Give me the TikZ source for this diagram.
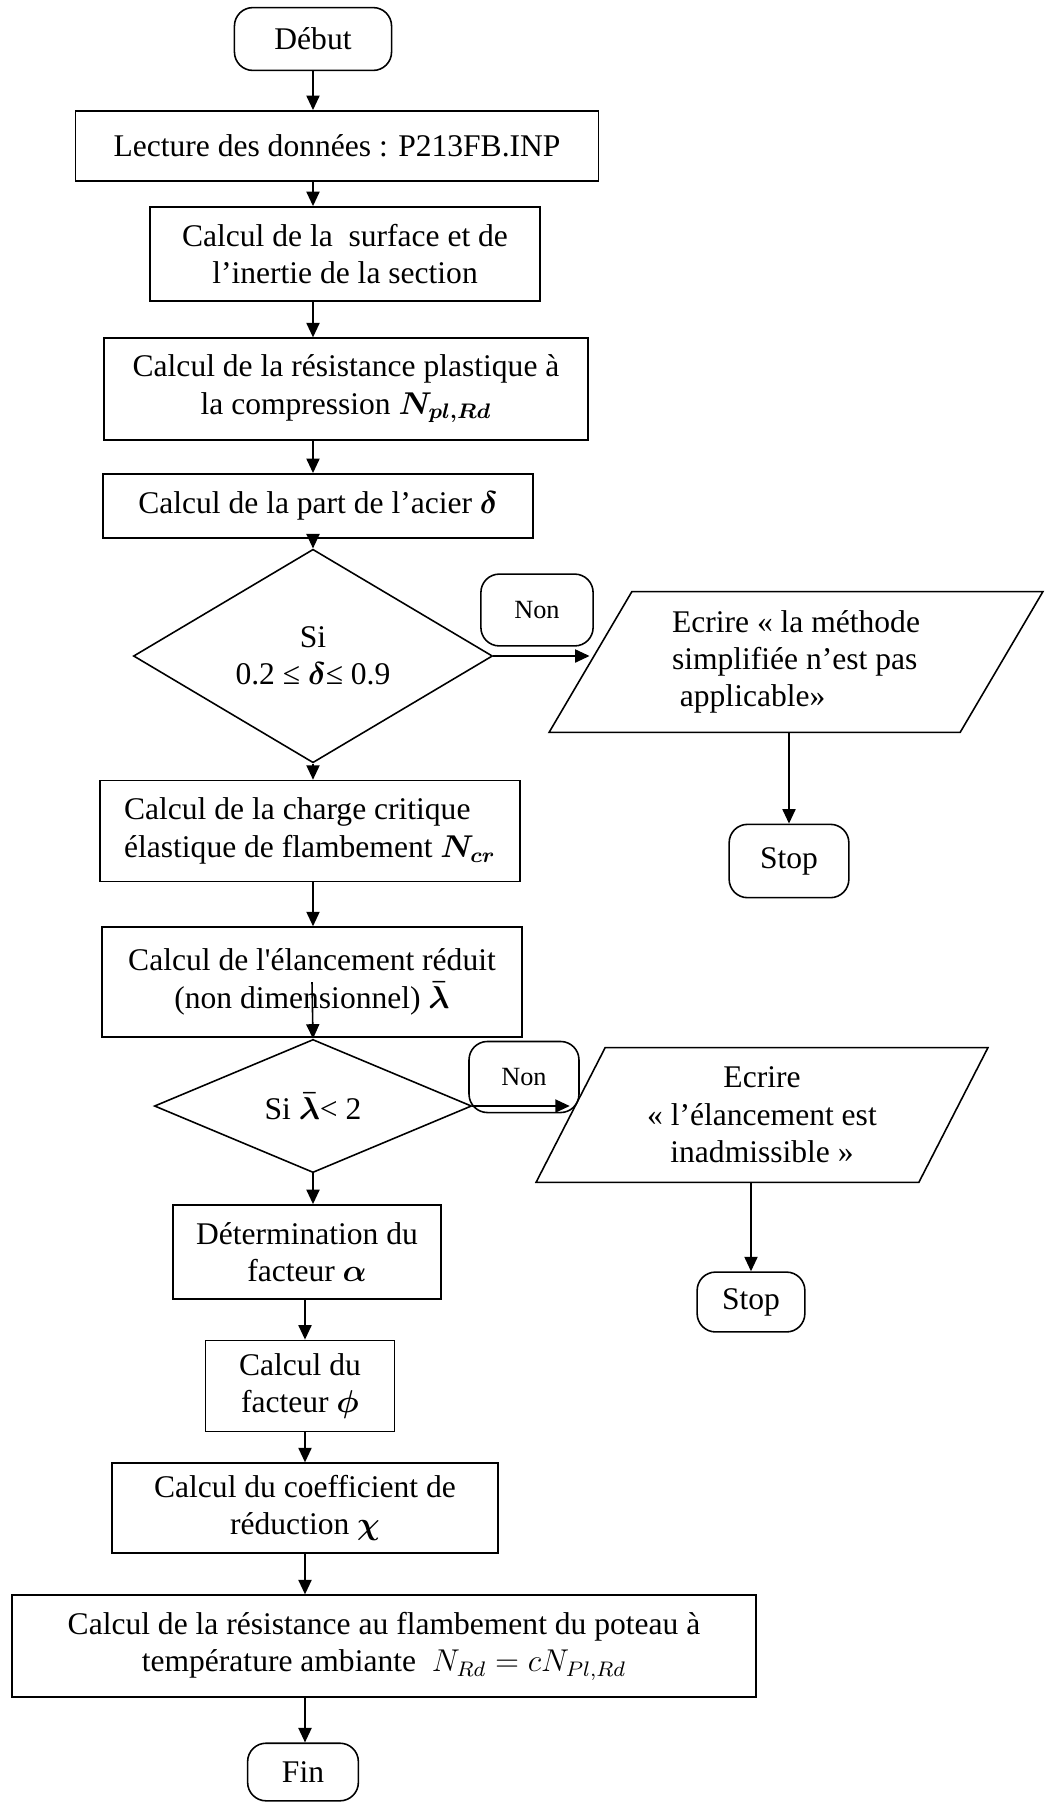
\documentclass[tikz,border=0pt]{standalone}
\usepackage{fontspec}
\setmainfont{Liberation Serif}
\usepackage{amsmath}
\usepackage{tikz}
\usetikzlibrary{shapes.geometric, arrows.meta}

\begin{document}
\begin{tikzpicture}[x=0.01336cm, y=-0.01336cm,
          box/.style={rectangle, draw, line width=0.6pt, align=center,
                      font=\fontsize{12}{14.2}\selectfont, inner sep=2pt},
          term/.style={box, rounded corners=7pt},
          non/.style={term, font=\fontsize{10}{12}\selectfont},
          test/.style={diamond, draw, line width=0.6pt, align=center,
                       font=\fontsize{12}{14.2}\selectfont, inner sep=0pt},
          io/.style={trapezium, trapezium stretches body, draw, line width=0.6pt,
                     font=\fontsize{12}{14.2}\selectfont, inner sep=2pt},
          arr/.style={-{Triangle[length=5.5pt, width=5pt]}, line width=0.6pt}
        ]
        \useasboundingbox (0,0) rectangle (1045,1802);

        % main column
        \node[term, minimum width=2.10cm, minimum height=0.84cm] (deb) at (313, 39) {Début};
        \node[box, minimum width=6.99cm, minimum height=0.94cm] (lec) at (337, 146) {Lecture des données : P213FB.INP};
        \node[box, minimum width=5.22cm, minimum height=1.26cm] (surf) at (345, 254)
              {Calcul de la \ surface et de\\l’inertie de la section};
        \node[box, minimum width=6.47cm, minimum height=1.36cm] (res) at (346, 389)
              {Calcul de la résistance plastique à\\la compression $\boldsymbol{N_{pl,Rd}}$};
        \node[box, minimum width=5.74cm, minimum height=0.86cm] (part) at (318, 506)
              {Calcul de la part de l’acier $\boldsymbol{\delta}$};
        \node[test, minimum width=4.80cm, minimum height=2.18cm] (si1) at (313, 656)
              {Si\\0.2 ≤ $\boldsymbol{\delta}$≤ 0.9};
        \node[box, align=left, minimum width=5.62cm, minimum height=1.35cm] (cha) at (310, 831)
              {Calcul de la charge critique\\élastique de flambement $\boldsymbol{N_{cr}}$};
        \node[box, minimum width=5.61cm, minimum height=1.47cm] (ela) at (312, 982)
              {Calcul de l\textquotesingle élancement réduit\\(non dimensionnel) $\boldsymbol{\bar{\lambda}}$};
        \node[test, minimum width=4.24cm, minimum height=1.78cm] (si2) at (313, 1106)
              {Si $\boldsymbol{\bar{\lambda}}$< 2};
        \node[box, minimum width=3.58cm, minimum height=1.26cm] (det) at (307, 1252)
              {Détermination du\\facteur $\boldsymbol{\alpha}$};
        \node[box, minimum width=2.53cm, minimum height=1.22cm] (fac) at (300, 1386)
              {Calcul du\\facteur $\boldsymbol{\phi}$};
        \node[box, minimum width=5.16cm, minimum height=1.20cm] (coef) at (305, 1508)
              {Calcul du coefficient de\\réduction $\boldsymbol{\chi}$};
        \node[box, minimum width=9.95cm, minimum height=1.36cm] (flamb) at (384, 1646)
              {Calcul de la résistance au flambement du poteau à\\température ambiante \ $N_{Rd} = cN_{Pl,Rd}$};
        \node[term, minimum width=1.48cm, minimum height=0.77cm] (fin) at (303, 1772) {Fin};

        % first test: no
        \node[non, minimum width=1.50cm, minimum height=0.96cm] (non1) at (537, 610) {Non};
        \node[io, align=left, trapezium left angle=54, trapezium right angle=126,
              minimum width=6.60cm, minimum height=1.88cm] (ec1) at (796, 662)
              {Ecrire « la méthode\\simplifiée n’est pas\\\hspace{0.25em}applicable»};
        \node[term, minimum width=1.60cm, minimum height=0.98cm] (stop1) at (789, 861) {Stop};

        % second test: no
        \node[non, minimum width=1.47cm, minimum height=0.95cm] (non2) at (524, 1077) {Non};
        \node[io, align=center, trapezium left angle=57, trapezium right angle=123,
              minimum width=6.04cm, minimum height=1.80cm] (ec2) at (762, 1115)
              {Ecrire\\« l’élancement est\\inadmissible »};
        \node[term, minimum width=1.44cm, minimum height=0.80cm] (stop2) at (751, 1302) {Stop};

        \foreach \a/\b in {deb/lec, lec/surf, surf/res, res/part, part/si1, si1/cha, cha/ela} {
          \draw[arr] (\a.south -| deb) -- (\b.north -| deb);
        }
        \draw[arr] (ela.center) -- (si2.north);
        \draw[arr] (si2.south) -- (si2.south |- det.north);
        \foreach \a/\b in {det/fac, fac/coef, coef/flamb, flamb/fin} {
          \draw[arr] (\a.south -| coef) -- (\b.north -| coef);
        }

        \draw[arr] (si1.east) -- (si1.east -| ec1.west);
        \draw[arr] (ec1.south -| stop1) -- (stop1.north);
        \draw[arr] (si2.east) -- (si2.east -| ec2.west);
        \draw[arr] (ec2.south -| stop2) -- (stop2.north);
      \end{tikzpicture}
\end{document}
